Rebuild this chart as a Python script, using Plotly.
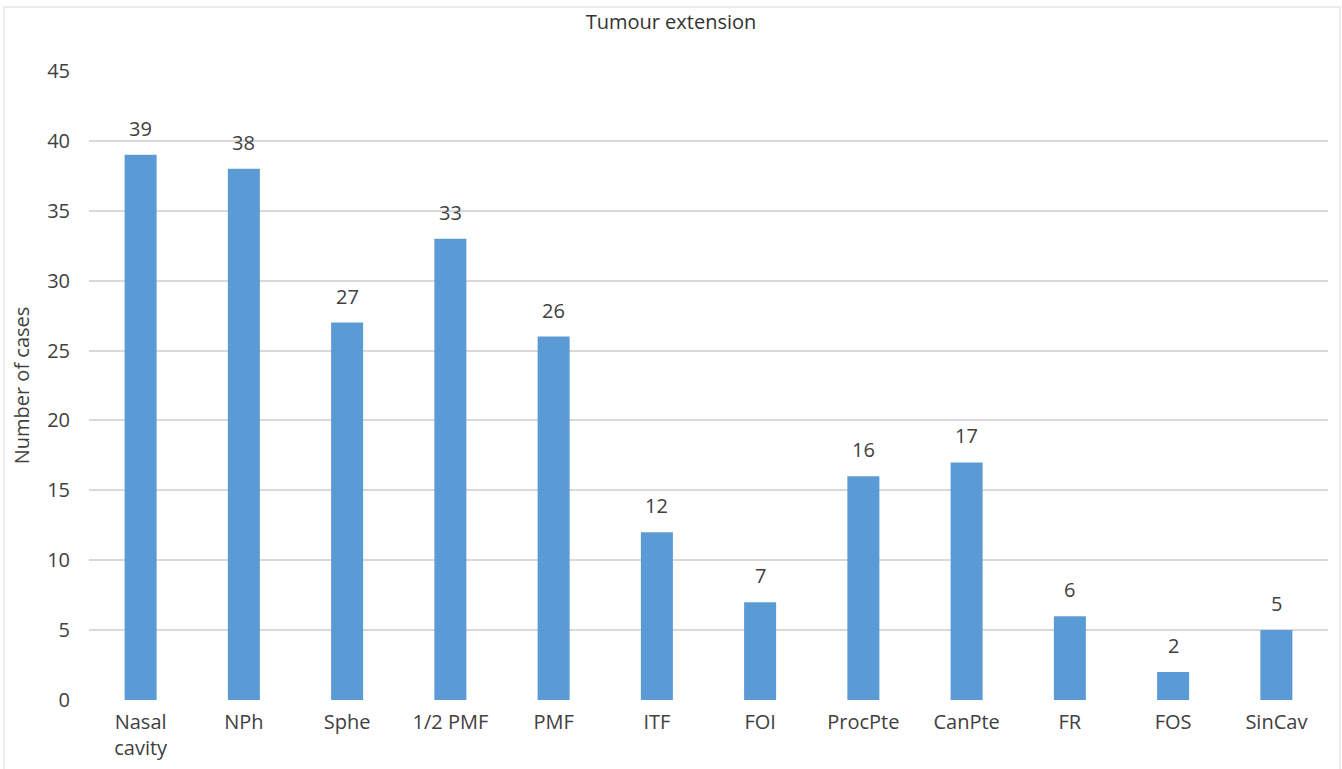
import plotly.graph_objects as go

categories = ["Nasal<br>cavity", "NPh", "Sphe", "1/2 PMF", "PMF", "ITF", "FOI",
              "ProcPte", "CanPte", "FR", "FOS", "SinCav"]
cases = [39, 38, 27, 33, 26, 12, 7, 16, 17, 6, 2, 5]
y_ticks = [0, 5, 10, 15, 20, 25, 30, 35, 40, 45]

W, H = 1342, 769
ml, mr, mt, mb = 89, 14, 71, 69
pw, ph = W - ml - mr, H - mt - mb

FONT = "Open Sans, Noto Sans, sans-serif"
TXT = "#404040"
FS = 20

fig = go.Figure(go.Bar(
    x=categories, y=cases,
    marker=dict(color="#5B9BD5", line=dict(width=0)),
))

annotations = [dict(x=c, y=v, text=str(v), showarrow=False, xref="x", yref="y",
                    yanchor="bottom", yshift=11,
                    font=dict(size=FS, color=TXT, family=FONT))
               for c, v in zip(categories, cases)]

fig.update_layout(
    width=W, height=H,
    margin=dict(l=ml, r=mr, t=mt, b=mb, autoexpand=False),
    paper_bgcolor="white", plot_bgcolor="white",
    bargap=0.69,
    showlegend=False,
    font=dict(family=FONT, color=TXT, size=FS),
    title=dict(text="Tumour extension", x=0.5, xanchor="center",
               y=1 - 22 / H, yanchor="middle",
               font=dict(size=FS, color="#333333", family=FONT)),
    xaxis=dict(showgrid=False, showline=False, zeroline=False, automargin=False,
               tickfont=dict(size=FS, color=TXT), ticks="", ticklabelstandoff=8),
    yaxis=dict(range=[0, 45], tickvals=y_ticks, showgrid=True, automargin=False,
               gridcolor="#D9D9D9", gridwidth=1.5, zeroline=False,
               showline=False, ticks="", ticklabelstandoff=18,
               tickfont=dict(size=FS, color=TXT),
               title=dict(text="Number of cases", standoff=12,
                          font=dict(size=FS, color=TXT))),
    annotations=annotations,
    shapes=[dict(type="rect", xref="paper", yref="paper",
                 x0=(4 - ml) / pw, x1=(1340 - ml) / pw,
                 y0=(H - 780 - mb) / ph, y1=(H - 7 - mb) / ph,
                 line=dict(color="#E6E6E6", width=1.5), fillcolor="rgba(0,0,0,0)",
                 layer="below")],
)

fig.write_html("out.html", config={"displayModeBar": False},
               post_script="document.body.style.margin='0';")
